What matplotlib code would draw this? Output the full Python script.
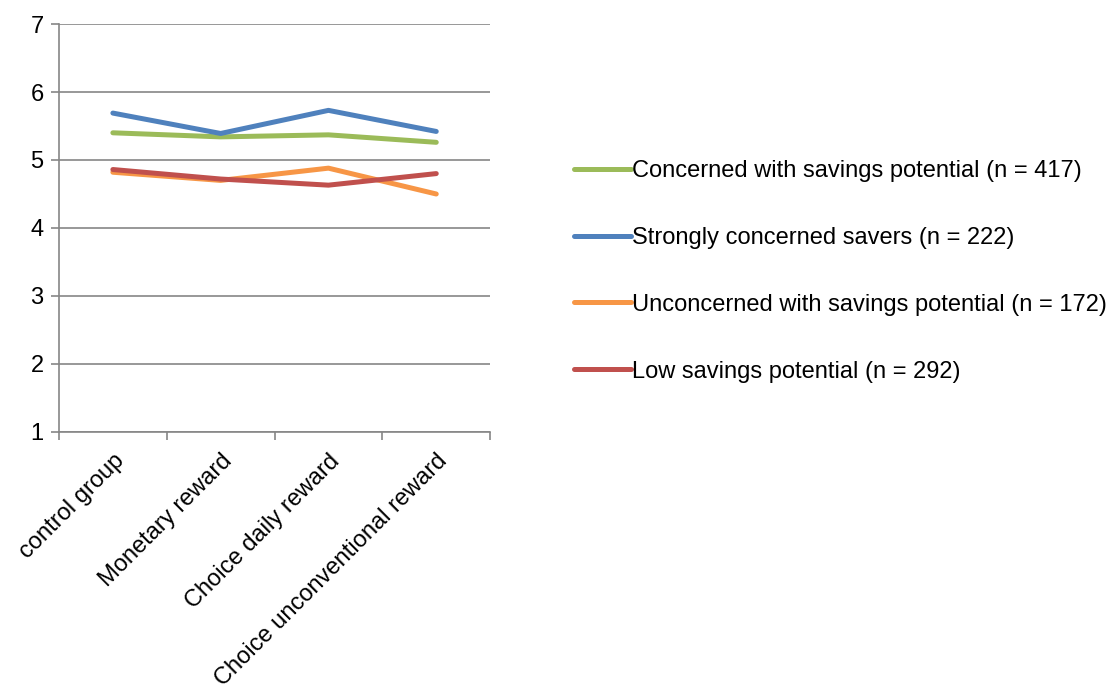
import matplotlib.pyplot as plt

plt.rcParams['font.family'] = ['Liberation Sans', 'DejaVu Sans']

categories = ["control group", "Monetary reward", "Choice daily reward",
              "Choice unconventional reward"]

concerned = [5.40, 5.34, 5.37, 5.26]
strongly = [5.69, 5.39, 5.73, 5.42]
unconcerned = [4.82, 4.70, 4.88, 4.50]
low_potential = [4.86, 4.72, 4.63, 4.80]

series_labels = ["Concerned with savings potential (n = 417)",
                 "Strongly concerned savers (n = 222)",
                 "Unconcerned with savings potential (n = 172)",
                 "Low savings potential (n = 292)"]
colors = ["#9BBB59", "#4F81BD", "#F79646", "#C0504D"]

fig = plt.figure(figsize=(11.17, 6.86), dpi=100)
ax = fig.add_axes([0.0528, 0.3703, 0.386, 0.5947])

x = range(len(categories))
for vals, lab, col in zip([concerned, strongly, unconcerned, low_potential],
                          series_labels, colors):
    ax.plot(x, vals, color=col, lw=3.6, label=lab, solid_capstyle='round')

ax.set_xlim(-0.5, len(categories) - 0.5)
ax.set_ylim(1, 7)
ax.set_yticks(range(1, 8))
ax.yaxis.grid(True, color='#868686', lw=1.2)
ax.set_axisbelow(True)

for s in ['top', 'right']:
    ax.spines[s].set_visible(False)
for s in ['left', 'bottom']:
    ax.spines[s].set_color('#868686')
    ax.spines[s].set_linewidth(1.2)

# category ticks sit on the boundaries between groups
ax.set_xticks([i - 0.5 for i in range(len(categories) + 1)])
ax.set_xticklabels([])
ax.set_xticks(list(x), minor=True)
ax.set_xticklabels(categories, minor=True, rotation=45, ha='right',
                   rotation_mode='anchor', fontsize=17)
ax.tick_params(axis='x', which='minor', length=0, pad=13)
ax.tick_params(axis='x', which='major', length=6, color='#868686', width=1.2)
ax.tick_params(axis='y', length=6, color='#868686', width=1.2, labelsize=17, pad=5)

leg = fig.legend(loc='center left', bbox_to_anchor=(0.4995, 0.6045), frameon=False,
                 fontsize=17, handlelength=2.4, handletextpad=0.05,
                 labelspacing=1.9, borderpad=0.2)

fig.savefig("out.png", dpi=100)
